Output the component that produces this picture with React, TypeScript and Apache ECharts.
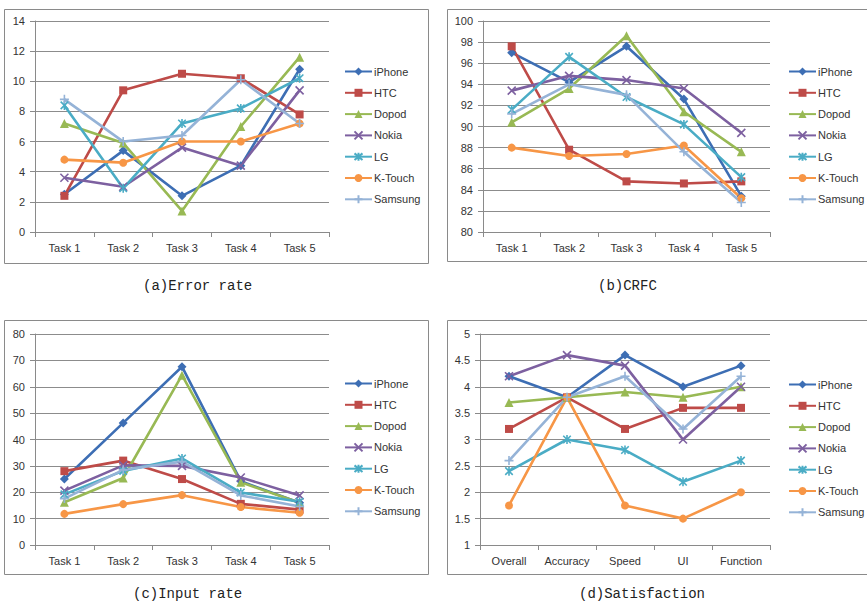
import React, { useEffect, useRef } from 'react';
import * as echarts from 'echarts';

const brands = ['iPhone', 'HTC', 'Dopod', 'Nokia', 'LG', 'K-Touch', 'Samsung'];
const taskCategories = ['Task 1', 'Task 2', 'Task 3', 'Task 4', 'Task 5'];
const satisfactionCategories = ['Overall', 'Accuracy', 'Speed', 'UI', 'Function'];

// rows follow brands order
const errorRate = [
  [2.5, 5.4, 2.4, 4.4, 10.8],
  [2.4, 9.4, 10.5, 10.2, 7.8],
  [7.2, 5.9, 1.4, 7.0, 11.6],
  [3.6, 3.0, 5.6, 4.4, 9.4],
  [8.4, 2.9, 7.2, 8.2, 10.2],
  [4.8, 4.6, 6.0, 6.0, 7.2],
  [8.8, 6.0, 6.4, 10.1, 7.2],
];
const crfc = [
  [97.0, 94.2, 97.6, 92.6, 83.4],
  [97.6, 87.8, 84.8, 84.6, 84.8],
  [90.4, 93.6, 98.6, 91.4, 87.6],
  [93.4, 94.8, 94.4, 93.6, 89.4],
  [91.6, 96.6, 92.8, 90.2, 85.2],
  [88.0, 87.2, 87.4, 88.2, 83.2],
  [91.2, 94.0, 93.0, 87.6, 82.8],
];
const inputRate = [
  [25, 46.3, 67.6, 24.2, 16],
  [28, 32, 25, 15.6, 13.4],
  [16.2, 25.4, 64.4, 23.8, 16],
  [20.6, 30.2, 30, 25.6, 18.8],
  [19.2, 28.1, 32.8, 19.9, 16.4],
  [11.8, 15.5, 18.9, 14.4, 12.2],
  [17.6, 28.5, 31.6, 18.8, 14.6],
];
const satisfaction = [
  [4.2, 3.8, 4.6, 4.0, 4.4],
  [3.2, 3.8, 3.2, 3.6, 3.6],
  [3.7, 3.8, 3.9, 3.8, 4.0],
  [4.2, 4.6, 4.4, 3.0, 4.0],
  [2.4, 3.0, 2.8, 2.2, 2.6],
  [1.75, 3.8, 1.75, 1.5, 2.0],
  [2.6, 3.8, 4.2, 3.2, 4.2],
];
const captions = ['(a)Error rate', '(b)CRFC', '(c)Input rate', '(d)Satisfaction'];

const colors = ['#3D6EB4', '#BE4B48', '#98B954', '#7D60A0', '#4AACC5', '#F79646', '#95B3D7'];
const symbols = [
  'diamond',
  'rect',
  'triangle',
  'path://M0,0L10,10M10,0L0,10',
  'path://M0,0L10,10M10,0L0,10M5,-1L5,11',
  'circle',
  'path://M5,0L5,10M0,5L10,5',
];
const symbolSizes = [9, 8, 9, 8, 9, 8, 9];
const strokeSymbol = [false, false, false, true, true, false, true];

export default function App() {
  const ref = useRef<HTMLDivElement>(null);
  useEffect(() => {
    const chart = echarts.init(ref.current!, null, { renderer: 'svg' });
    const panels = [
      { grid: { left: 35, top: 21, width: 294, height: 211 }, legend: { left: 344, top: 66 }, min: 0, max: 14, interval: 2, cats: taskCategories, data: errorRate },
      { grid: { left: 483, top: 21, width: 287, height: 211 }, legend: { left: 788, top: 66 }, min: 80, max: 100, interval: 2, cats: taskCategories, data: crfc },
      { grid: { left: 35, top: 334, width: 294, height: 211 }, legend: { left: 344, top: 378 }, min: 0, max: 80, interval: 10, cats: taskCategories, data: inputRate },
      { grid: { left: 480, top: 334, width: 290, height: 211 }, legend: { left: 788, top: 379 }, min: 1, max: 5, interval: 0.5, cats: satisfactionCategories, data: satisfaction },
    ];
    const font = 'Liberation Sans';
    const series: any[] = [];
    panels.forEach((p, pi) => {
      brands.forEach((b, bi) => {
        series.push({
          type: 'line',
          name: b,
          xAxisIndex: pi,
          yAxisIndex: pi,
          data: p.data[bi],
          symbol: symbols[bi],
          symbolSize: symbolSizes[bi],
          symbolKeepAspect: true,
          showAllSymbol: true,
          lineStyle: { width: 2.6, color: colors[bi] },
          itemStyle: strokeSymbol[bi]
            ? { color: colors[bi], borderColor: colors[bi], borderWidth: 1.6 }
            : { color: colors[bi], borderWidth: 0 },
          emphasis: { disabled: true },
        });
      });
    });
    const option: any = {
      animation: false,
      color: colors,
      grid: panels.map((p) => ({ ...p.grid, containLabel: false })),
      xAxis: panels.map((p, pi) => ({
        type: 'category',
        gridIndex: pi,
        data: p.cats,
        boundaryGap: true,
        axisLine: { show: true, lineStyle: { color: '#8a8a8a', width: 1 } },
        axisTick: { show: true, length: 5, lineStyle: { color: '#8a8a8a' } },
        axisLabel: { color: '#333', fontFamily: font, fontSize: 11, margin: 10, interval: 0 },
        splitLine: { show: false },
      })),
      yAxis: panels.map((p, pi) => ({
        type: 'value',
        gridIndex: pi,
        min: p.min,
        max: p.max,
        interval: p.interval,
        axisLine: { show: true, lineStyle: { color: '#8a8a8a', width: 1 } },
        axisTick: { show: true, length: 5, inside: false, lineStyle: { color: '#8a8a8a' } },
        axisLabel: { color: '#333', fontFamily: font, fontSize: 11, margin: 10 },
        splitLine: { show: true, lineStyle: { color: '#8c8c8c', width: 1 } },
      })),
      legend: panels.map((p) => ({
        orient: 'vertical',
        left: p.legend.left,
        top: p.legend.top,
        itemWidth: 27,
        itemHeight: 10,
        itemGap: 10.3,
        padding: 0,
        selectedMode: false,
        data: brands,
        textStyle: { color: '#333', fontFamily: font, fontSize: 11, padding: [0, 0, 0, -3] },
      })),
      graphic: [
        { type: 'rect', shape: { x: 4.5, y: 9.5, width: 424, height: 254 }, style: { fill: 'none', stroke: '#8a8a8a', lineWidth: 1 } },
        { type: 'rect', shape: { x: 447.5, y: 9.5, width: 440, height: 252 }, style: { fill: 'none', stroke: '#8a8a8a', lineWidth: 1 } },
        { type: 'rect', shape: { x: 4.5, y: 320.5, width: 424, height: 254 }, style: { fill: 'none', stroke: '#8a8a8a', lineWidth: 1 } },
        { type: 'rect', shape: { x: 447.5, y: 320.5, width: 440, height: 254 }, style: { fill: 'none', stroke: '#8a8a8a', lineWidth: 1 } },
        ...[
          [143, 286],
          [598, 286],
          [133, 594],
          [579, 594],
        ].map(([x, y], i) => ({
          type: 'text',
          x,
          y,
          style: { text: captions[i], fontFamily: 'Liberation Mono', fontSize: 14, fill: '#222', verticalAlign: 'middle' },
        })),
      ],
      series,
    };
    chart.setOption(option);
    return () => chart.dispose();
  }, []);
  return <div ref={ref} style={{ position: 'absolute', left: 0, top: 0, width: 867, height: 604 }} />;
}
